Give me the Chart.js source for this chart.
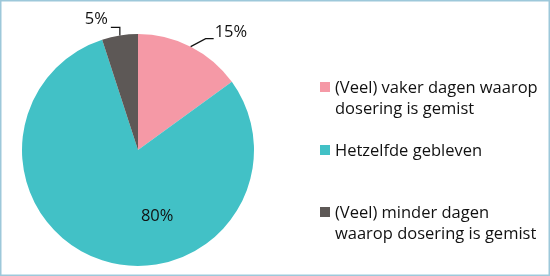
<!DOCTYPE html>
<html>
<head>
<meta charset="utf-8">
<script src="https://cdn.jsdelivr.net/npm/chart.js@4/dist/chart.umd.min.js"></script>
<style>
  html, body { margin: 0; padding: 0; background: #fff; }
  canvas { display: block; }
</style>
</head>
<body>
<canvas id="pieChart" width="550" height="276"></canvas>
<script>
// === Data ===
const categories = [
    ["(Veel) vaker dagen waarop", "dosering is gemist"],
    ["Hetzelfde gebleven"],
    ["(Veel) minder dagen", "waarop dosering is gemist"]
];
const shares = [15, 80, 5];
const sliceColors = ["#F599A6", "#42C1C6", "#5D5856"];

const FONT = "'Open Sans', sans-serif";

// white background + thin blue frame
const framePlugin = {
    id: "frame",
    beforeDraw(chart) {
        const ctx = chart.ctx;
        ctx.save();
        ctx.fillStyle = "#fff";
        ctx.fillRect(0, 0, chart.width, chart.height);
        ctx.strokeStyle = "#9DC8DA";
        ctx.lineWidth = 1.5;
        ctx.strokeRect(0.75, 0.75, chart.width - 1.5, chart.height - 1.5);
        ctx.restore();
    }
};

// percentage labels with leader lines, placed like the office chart
const valueLabels = {
    id: "valueLabels",
    afterDatasetsDraw(chart) {
        const ctx = chart.ctx;
        const meta = chart.getDatasetMeta(0);
        ctx.save();
        ctx.font = "16.5px " + FONT;
        ctx.fillStyle = "#111";
        ctx.strokeStyle = "#111";
        ctx.lineWidth = 1.2;
        meta.data.forEach((arc, i) => {
            const { x, y, startAngle, endAngle, outerRadius } = arc.getProps(["x", "y", "startAngle", "endAngle", "outerRadius"], true);
            const mid = (startAngle + endAngle) / 2;
            const ex = x + Math.cos(mid) * outerRadius;
            const ey = y + Math.sin(mid) * outerRadius;
            const txt = shares[i] + "%";
            if (i === 0) {
                ctx.beginPath();
                ctx.moveTo(ex, ey);
                ctx.lineTo(ex + 15, ey - 8);
                ctx.lineTo(ex + 23, ey - 8);
                ctx.stroke();
                ctx.textAlign = "left";
                ctx.textBaseline = "middle";
                ctx.fillText(txt, ex + 24, ey - 14);
            } else if (i === 2) {
                ctx.beginPath();
                ctx.moveTo(ex, ey);
                ctx.lineTo(ex, ey - 8);
                ctx.lineTo(ex - 9, ey - 8);
                ctx.stroke();
                ctx.textAlign = "right";
                ctx.textBaseline = "middle";
                ctx.fillText(txt, ex - 12, ey - 16);
            } else {
                ctx.textAlign = "center";
                ctx.textBaseline = "middle";
                ctx.fillText(txt, x + 0.165 * outerRadius, y + 0.575 * outerRadius);
            }
        });
        ctx.restore();
    }
};

// legend on the right with wrapped labels
const sideLegend = {
    id: "sideLegend",
    afterDraw(chart) {
        const ctx = chart.ctx;
        const rowY = [87, 150, 212];
        const lineH = 21;
        ctx.save();
        ctx.font = "16.5px " + FONT;
        ctx.textAlign = "left";
        ctx.textBaseline = "middle";
        categories.forEach((lines, i) => {
            ctx.fillStyle = sliceColors[i];
            ctx.fillRect(320, rowY[i] - 5, 10, 10);
            ctx.fillStyle = "#111";
            lines.forEach((t, k) => ctx.fillText(t, 335, rowY[i] + 1 + k * lineH));
        });
        ctx.restore();
    }
};

new Chart(document.getElementById("pieChart"), {
    type: "pie",
    data: {
        labels: categories.map(c => c.join(" ")),
        datasets: [{
            data: shares,
            backgroundColor: sliceColors,
            borderWidth: 0
        }]
    },
    options: {
        responsive: false,
        animation: false,
        events: [],
        layout: { padding: { left: 22, top: 34, right: 296, bottom: 10 } },
        plugins: {
            legend: { display: false },
            tooltip: { enabled: false }
        }
    },
    plugins: [framePlugin, valueLabels, sideLegend]
});
</script>
</body>
</html>
